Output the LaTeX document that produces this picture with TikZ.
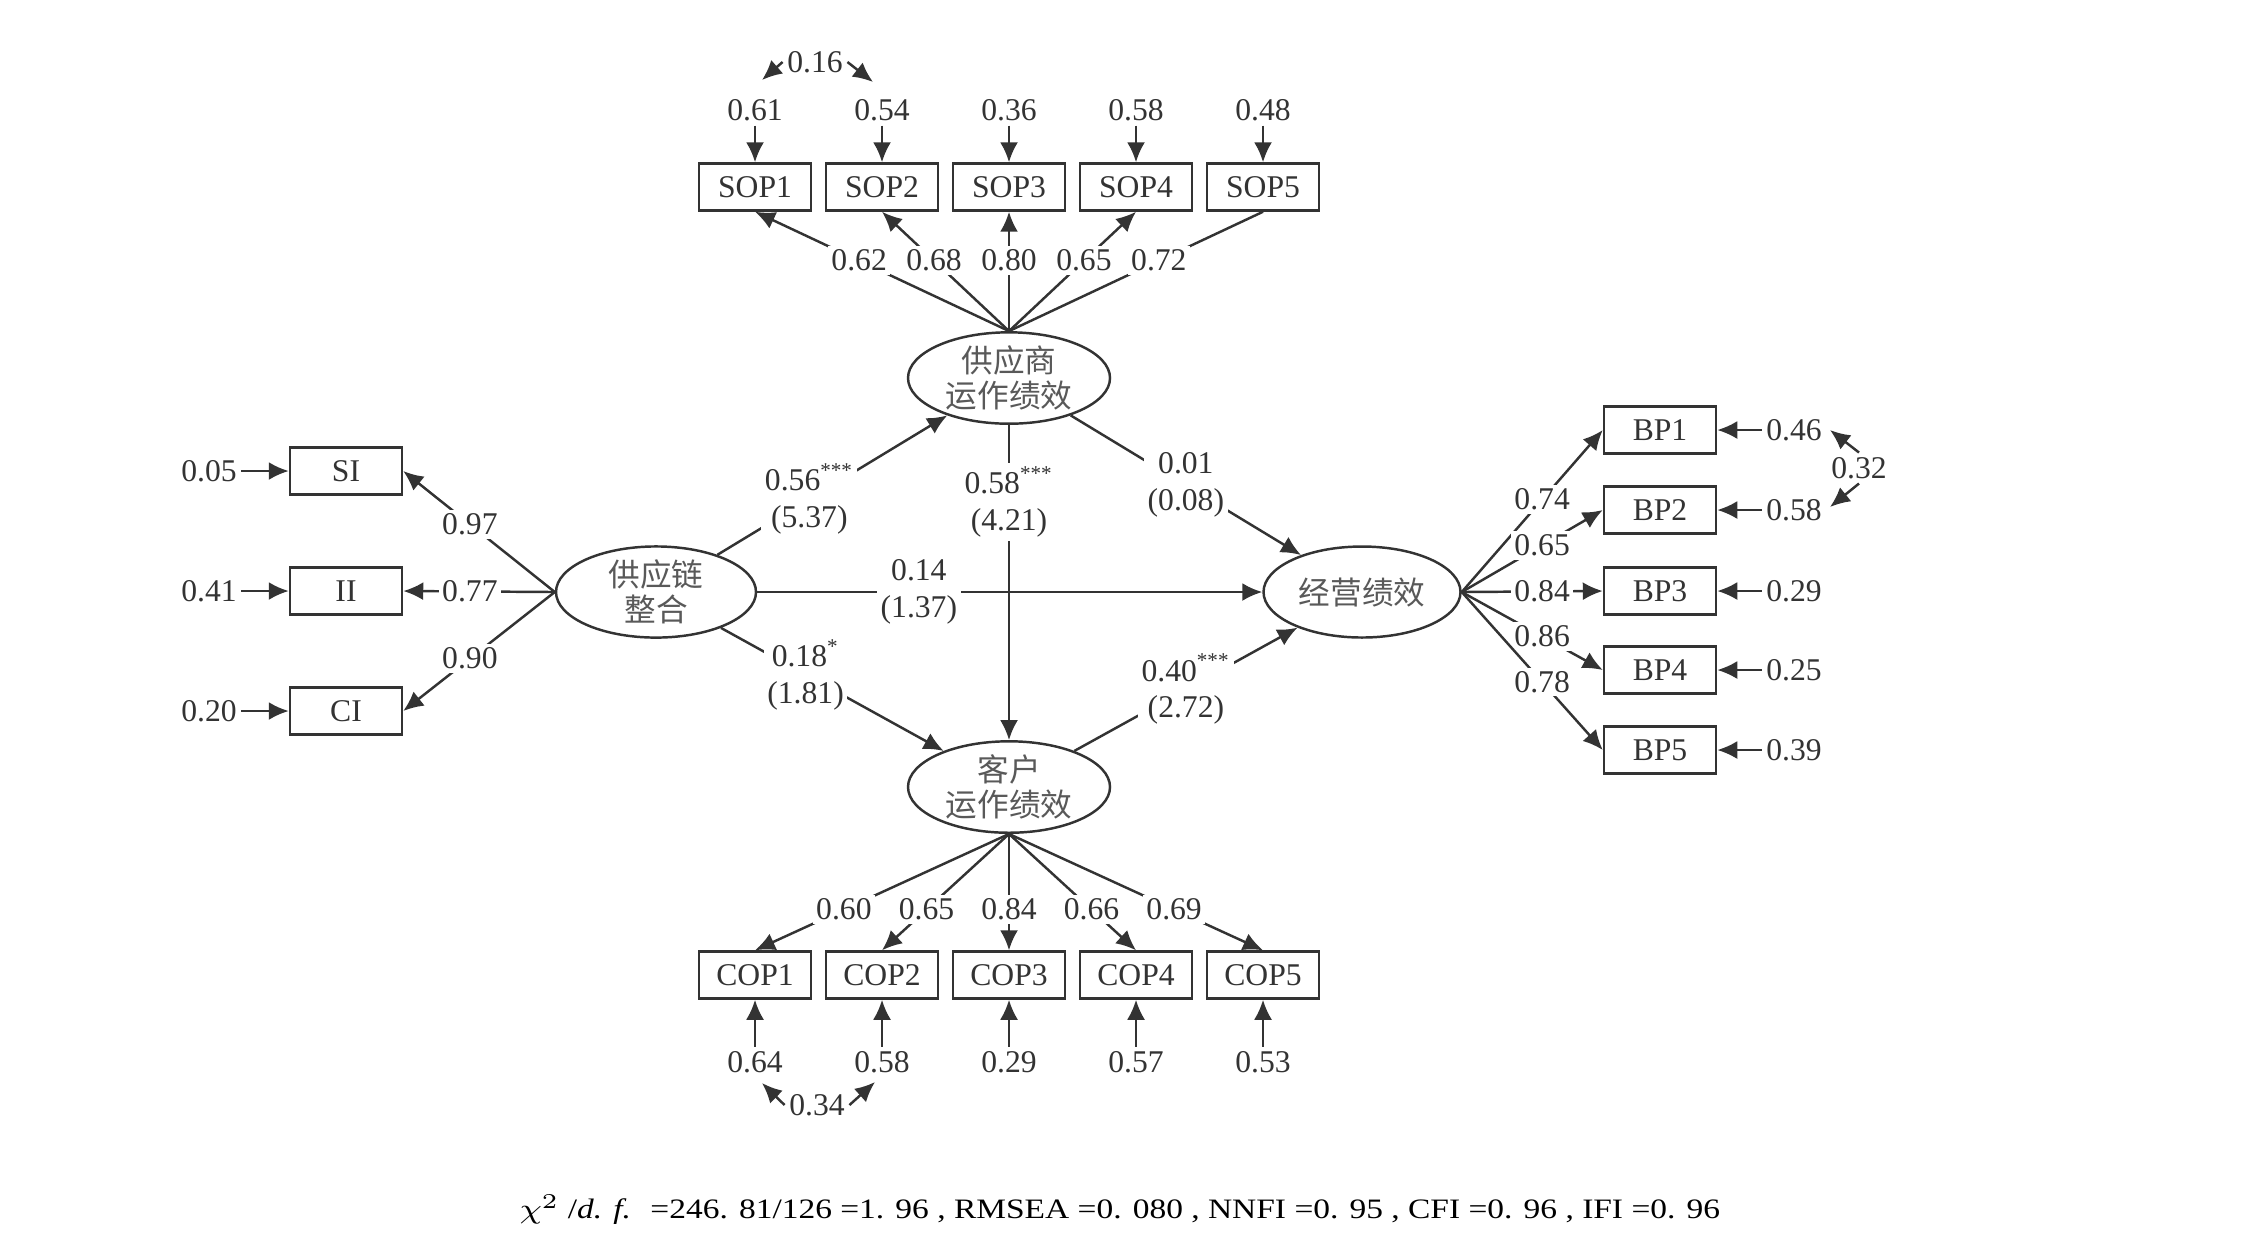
\documentclass[tikz,border=0pt]{standalone}
\usepackage{fontspec}
\setmainfont{Liberation Serif}
\newfontfamily\cjk{Noto Sans CJK SC}
\usetikzlibrary{arrows.meta,shapes.geometric}

\begin{document}
\begin{tikzpicture}[
    >={Latex[length=2mm,width=1.8mm]},
    box/.style={draw,rectangle,minimum width=1.12cm,minimum height=0.47cm,inner sep=0pt},
    lat/.style={draw,ellipse,minimum width=2.02cm,minimum height=0.9cm,inner sep=0pt,align=center,font=\cjk\fontsize{9}{10}\selectfont,text=black!65},
    val/.style={inner sep=1pt},
    lab/.style={fill=white,inner sep=1pt,align=center},
  ]
    \useasboundingbox (0,0) rectangle (22.44,-12.43);
    \begin{scope}[line width=0.7pt,color=black!80,font=\fontsize{9}{10.5}\selectfont]
        \node[lat] (sup) at (10.09,-3.78) {供应商\\运作绩效};
        \node[lat] (cus) at (10.09,-7.87) {客户\\运作绩效};
        \node[lat,minimum width=2cm,minimum height=0.91cm] (sci) at (6.56,-5.92) {供应链\\整合};
        \node[lat,minimum width=1.97cm,minimum height=0.91cm] (perf) at (13.62,-5.92) {经营绩效};

        \foreach \n/\t/\y/\e/\l in {1/SI/-4.71/0.05/0.97, 2/II/-5.91/0.41/0.77, 3/CI/-7.11/0.20/0.90}{
            \node[box] (sc\n) at (3.46,\y) {\t};
            \node[val] (sce\n) at (2.09,\y) {\e};
            \draw[->] (sce\n) -- (sc\n);
            \draw[->] (sci.west) -- node[lab,pos=0.56] {\l} (sc\n.east);
        }

        \foreach \n/\x/\e in {1/7.55/0.61, 2/8.82/0.54, 3/10.09/0.36, 4/11.36/0.58, 5/12.63/0.48}{
            \node[box] (sop\n) at (\x,-1.87) {SOP\n};
            \node[val] (sope\n) at (\x,-1.10) {\e};
            \draw[->] (sope\n) -- (sop\n);
        }
        \foreach \n/\l in {1/0.62, 2/0.68, 3/0.80, 4/0.65}
            \draw[->] (sup.north) -- node[lab,pos=0.59] {\l} (sop\n.south);
        \draw (sup.north) -- node[lab,pos=0.59] {0.72} (sop5.south);

        \foreach \n/\x/\e/\l in {1/7.55/0.64/0.60, 2/8.82/0.58/0.65, 3/10.09/0.29/0.84, 4/11.36/0.57/0.66, 5/12.63/0.53/0.69}{
            \node[box] (cop\n) at (\x,-9.75) {COP\n};
            \node[val] (cope\n) at (\x,-10.62) {\e};
            \draw[->] (cope\n) -- (cop\n);
            \draw[->] (cus.south) -- node[lab,pos=0.65] {\l} (cop\n.north);
        }

        \foreach \n/\y/\e/\l in {1/-4.30/0.46/0.74, 2/-5.10/0.58/0.65, 3/-5.91/0.29/0.84, 4/-6.70/0.25/0.86, 5/-7.50/0.39/0.78}{
            \node[box] (bp\n) at (16.60,\y) {BP\n};
            \node[val] (bpe\n) at (17.94,\y) {\e};
            \draw[->] (bpe\n) -- (bp\n);
            \draw[->] (perf.east) -- node[lab,pos=0.57] {\l} (bp\n.west);
        }

        \draw[->] (sci) -- node[lab,pos=0.4] {0.56\textsuperscript{***}\\(5.37)} (sup);
        \draw[->] (sci) -- node[lab,pos=0.38] {0.18\textsuperscript{*}\\(1.81)} (cus);
        \draw[->] (sci) -- node[lab,pos=0.32] {0.14\\(1.37)} (perf);
        \draw[->] (sup) -- node[lab,pos=0.245] {0.58\textsuperscript{***}\\(4.21)} (cus);
        \draw[->] (sup) -- node[lab,pos=0.5] {0.01\\(0.08)} (perf);
        \draw[->] (cus) -- node[lab,pos=0.5] {0.40\textsuperscript{***}\\(2.72)} (perf);

        \node[val] (c16) at (8.15,-0.62) {0.16};
        \coordinate (c16a) at (7.62,-0.80);
        \coordinate (c16b) at (8.73,-0.82);
        \draw[->] (c16.west) -- (c16a);
        \draw[->] (c16.east) -- (c16b);

        \node[val] (c34) at (8.17,-11.05) {0.34};
        \coordinate (c34a) at (7.62,-10.83);
        \coordinate (c34b) at (8.75,-10.82);
        \draw[->] (c34.west) -- (c34a);
        \draw[->] (c34.east) -- (c34b);

        \node[val] (c32) at (18.59,-4.68) {0.32};
        \coordinate (c32a) at (18.30,-4.30);
        \coordinate (c32b) at (18.30,-5.07);
        \draw[->] (c32.north) -- (c32a);
        \draw[->] (c32.south) -- (c32b);
    \end{scope}

    \node[font=\fontsize{8}{9}\selectfont] (fit) at (11.20,-12.10) {\scalebox{1.19}[1]{$\chi^2$ /\textit{d. f.} \ =246. 81/126 =1. 96 , RMSEA =0. 080 , NNFI =0. 95 , CFI =0. 96 , IFI =0. 96}};
\end{tikzpicture}
\end{document}
